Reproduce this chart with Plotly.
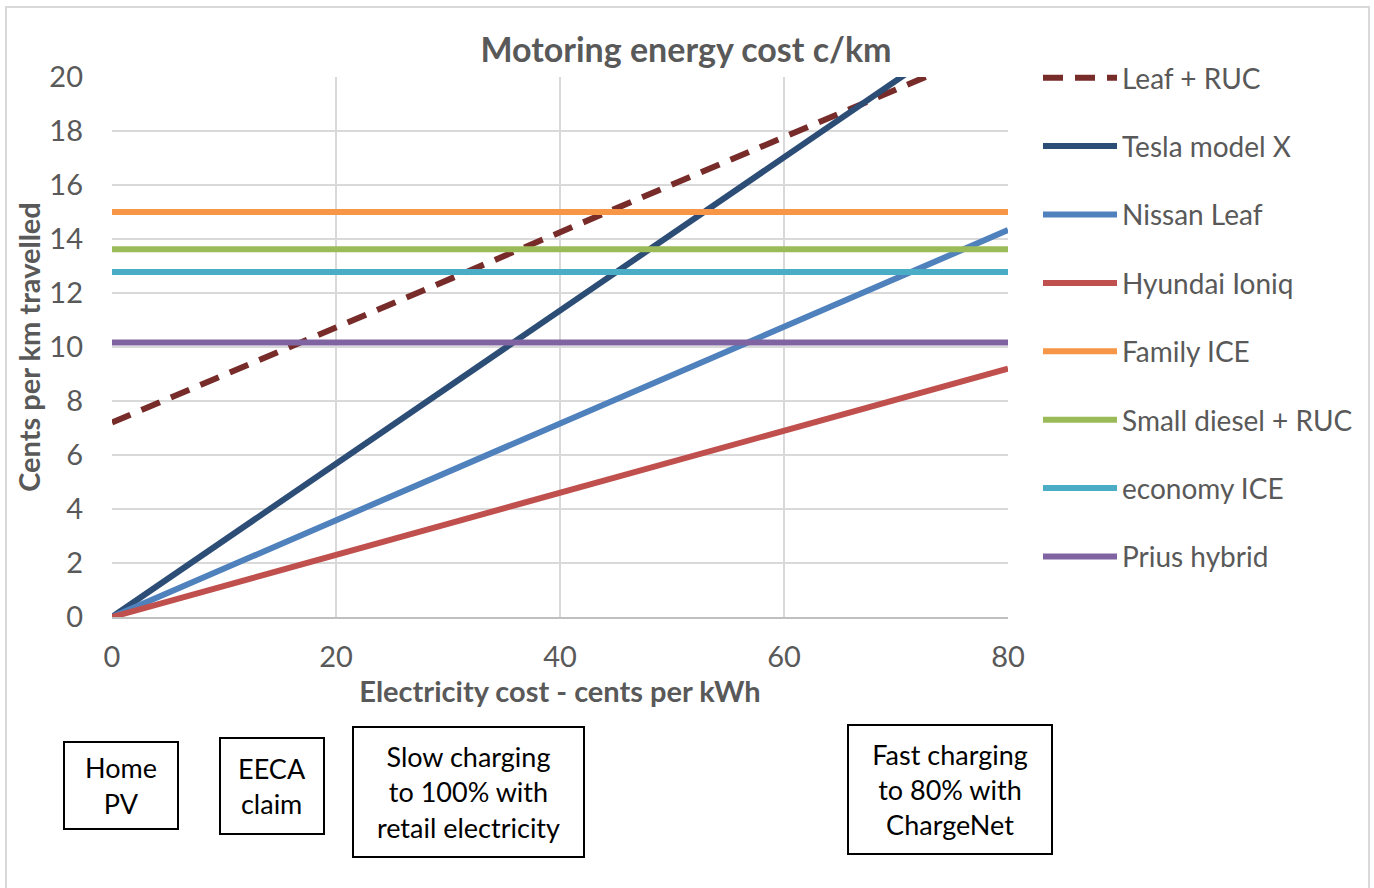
import plotly.graph_objects as go

# Data
elec_cost = [0, 80]  # cents per kWh
series_names = ["Leaf + RUC", "Tesla model X", "Nissan Leaf", "Hyundai Ioniq",
                "Family ICE", "Small diesel + RUC", "economy ICE", "Prius hybrid"]
leaf_ruc = [7.2, 21.3]
tesla_x = [0, 22.7]
nissan_leaf = [0, 14.33]
hyundai_ioniq = [0, 9.2]
family_ice = [15.0, 15.0]
small_diesel_ruc = [13.62, 13.62]
economy_ice = [12.78, 12.78]
prius_hybrid = [10.17, 10.17]
series_values = [leaf_ruc, tesla_x, nissan_leaf, hyundai_ioniq,
                 family_ice, small_diesel_ruc, economy_ice, prius_hybrid]
colors = ["#772C2A", "#2C4D75", "#4F81BD", "#C0504D",
          "#F79646", "#9BBB59", "#4BACC6", "#8064A2"]
dashes = ["20px,12px", "solid", "solid", "solid", "solid", "solid", "solid", "solid"]

x_ticks = [0, 20, 40, 60, 80]
y_ticks = [0, 2, 4, 6, 8, 10, 12, 14, 16, 18, 20]

box_labels = ["Home<br>PV", "EECA<br>claim",
              "Slow charging<br>to 100% with<br>retail electricity",
              "Fast charging<br>to 80% with<br>ChargeNet"]

FONT = "Lato, Carlito, 'Liberation Sans', sans-serif"
GRAY = "#595959"

W, H = 1374, 888
L, R, T, B = 112, 1008, 77, 617

fig = go.Figure()
for i in range(len(series_names)):
    fig.add_trace(go.Scatter(
        x=elec_cost, y=series_values[i], mode="lines", name=series_names[i],
        line=dict(color=colors[i], width=6, dash=dashes[i]),
        legendgroup=series_names[i], legendrank=i + 1, showlegend=True,
    ))

def px_x(p):
    return (p - L) / (R - L)

def px_y(p):
    return (B - p) / (B - T)

# Text boxes (pixel centers and sizes)
boxes = [(121, 785, 116, 89), (272, 786, 106, 98), (468, 792, 233, 132), (950, 789, 206, 131)]
for lab, (cx, cy, bw, bh) in zip(box_labels, boxes):
    fig.add_annotation(
        text=lab, xref="paper", yref="paper", x=px_x(cx), y=px_y(cy),
        xanchor="center", yanchor="middle", showarrow=False,
        width=bw - 4, height=bh - 4, borderpad=0,
        bordercolor="black", borderwidth=2, bgcolor="white",
        font=dict(family=FONT, size=27, color="black"), align="center",
    )

# outer chart border
fig.add_shape(type="rect", xref="paper", yref="paper",
              x0=px_x(6), x1=px_x(1369), y0=px_y(895), y1=px_y(7),
              line=dict(color="#D9D9D9", width=2), layer="below")

fig.update_layout(
    width=W, height=H,
    margin=dict(l=L, r=W - R, t=T, b=H - B, pad=0),
    paper_bgcolor="white", plot_bgcolor="white",
    title=dict(text="<b>Motoring energy cost c/km</b>", x=686 / W, xanchor="center",
               y=1 - 50 / H, yanchor="middle",
               font=dict(family=FONT, size=34, color=GRAY)),
    font=dict(family=FONT, color=GRAY),
    showlegend=True,
    legend=dict(x=px_x(1038), xanchor="left", y=px_y(53), yanchor="top",
                font=dict(family=FONT, size=28, color=GRAY),
                itemwidth=74, tracegroupgap=29, bgcolor="rgba(0,0,0,0)",
                traceorder="grouped", maxheight=800),
    xaxis=dict(range=[0, 80], tickvals=x_ticks, showgrid=True, gridcolor="#D9D9D9",
               gridwidth=2, zeroline=False, showline=True, linecolor="#BFBFBF", linewidth=2,
               ticks="", ticklabelstandoff=13,
               tickfont=dict(family=FONT, size=29, color=GRAY),
               title=dict(text="<b>Electricity cost - cents per kWh</b>", standoff=4,
                          font=dict(family=FONT, size=29, color=GRAY))),
    yaxis=dict(range=[0, 20], tickvals=y_ticks, showgrid=True, gridcolor="#D9D9D9",
               gridwidth=2, zeroline=False, showline=False,
               ticks="", ticklabelstandoff=28,
               tickfont=dict(family=FONT, size=29, color=GRAY),
               title=dict(text="<b>Cents per km travelled</b>", standoff=0,
                          font=dict(family=FONT, size=29, color=GRAY))),
)

fig.write_html("out.html", config={"displayModeBar": False},
               post_script="document.body.style.margin='0';document.body.style.overflow='hidden';"
                           "document.documentElement.style.overflow='hidden';"
                           "var g=document.getElementsByClassName('plotly-graph-div')[0];"
                           "if(g){g.style.overflow='hidden';g.parentElement.style.overflow='hidden';}")
